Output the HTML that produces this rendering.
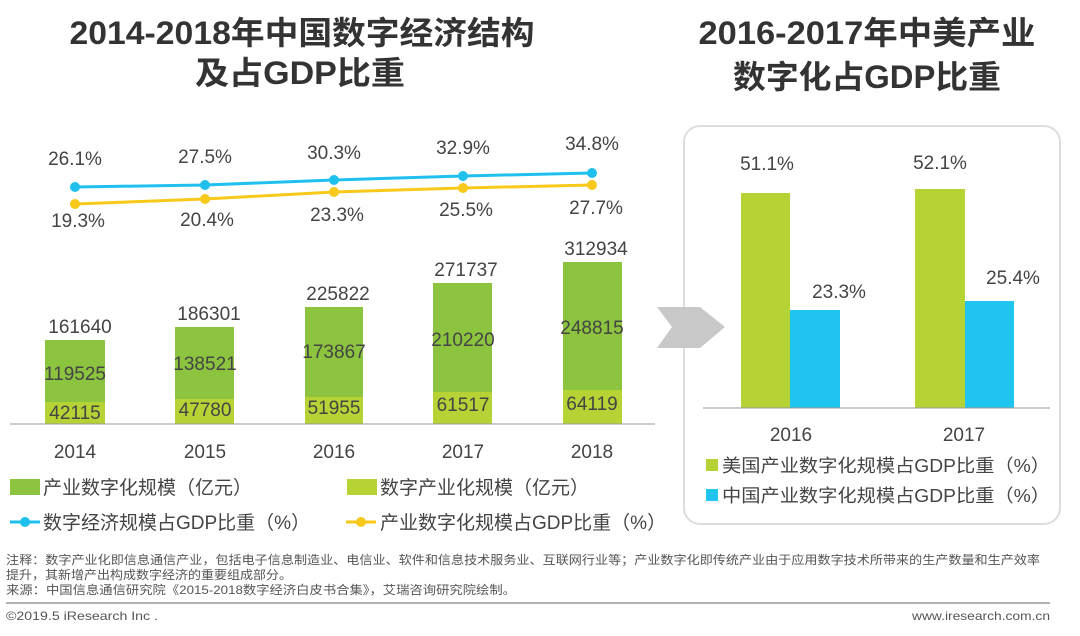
<!DOCTYPE html>
<html><head><meta charset="utf-8"><style>
body{margin:0;width:1080px;height:631px;background:#fff;overflow:hidden;font-family:"Liberation Sans","Noto Sans CJK SC",sans-serif;}
svg text{font-family:"Liberation Sans","Noto Sans CJK SC",sans-serif;}
</style></head><body>
<svg width="1080" height="631" xmlns="http://www.w3.org/2000/svg">
<g font-weight="bold" fill="#333" font-size="32" text-anchor="middle">
<text x="302" y="44" textLength="465" lengthAdjust="spacingAndGlyphs">2014-2018年中国数字经济结构</text>
<text x="300" y="84" textLength="210" lengthAdjust="spacingAndGlyphs">及占GDP比重</text>
<text x="867" y="44" textLength="337" lengthAdjust="spacingAndGlyphs">2016-2017年中美产业</text>
<text x="867" y="88" textLength="268" lengthAdjust="spacingAndGlyphs">数字化占GDP比重</text>
</g>
<!-- right panel -->
<rect x="684" y="126" width="376" height="398" rx="16" fill="#fff" stroke="#ddd" stroke-width="2"/>
<!-- left bars -->
<g>
<rect x="45" y="340" width="60" height="84" fill="#8cc43f"/><rect x="45" y="402" width="60" height="22" fill="#b5d334"/>
<rect x="175" y="327" width="59" height="97" fill="#8cc43f"/><rect x="175" y="399" width="59" height="25" fill="#b5d334"/>
<rect x="305" y="307" width="58" height="117" fill="#8cc43f"/><rect x="305" y="397" width="58" height="27" fill="#b5d334"/>
<rect x="433" y="283" width="59" height="141" fill="#8cc43f"/><rect x="433" y="392" width="59" height="32" fill="#b5d334"/>
<rect x="563" y="262" width="59" height="162" fill="#8cc43f"/><rect x="563" y="390" width="59" height="34" fill="#b5d334"/>
<line x1="10" y1="424" x2="655" y2="424" stroke="#999" stroke-width="1"/>
</g>
<g font-size="19" fill="#444" text-anchor="middle">
<text x="80" y="333">161640</text><text x="209" y="320">186301</text><text x="338" y="300">225822</text><text x="466" y="276">271737</text><text x="596" y="255">312934</text>
<text x="75" y="380">119525</text><text x="205" y="370">138521</text><text x="334" y="358">173867</text><text x="463" y="346">210220</text><text x="592" y="334">248815</text>
<text x="75" y="419">42115</text><text x="205" y="416">47780</text><text x="334" y="414">51955</text><text x="463" y="411">61517</text><text x="592" y="410">64119</text>
<text x="75" y="458">2014</text><text x="205" y="458">2015</text><text x="334" y="458">2016</text><text x="463" y="458">2017</text><text x="592" y="458">2018</text>
<text x="75" y="165">26.1%</text><text x="205" y="163">27.5%</text><text x="334" y="159">30.3%</text><text x="463" y="154">32.9%</text><text x="592" y="150">34.8%</text>
<text x="78" y="227">19.3%</text><text x="207" y="226">20.4%</text><text x="337" y="221">23.3%</text><text x="466" y="216">25.5%</text><text x="596" y="214">27.7%</text>
</g>
<polyline points="75,187 205,185 334,180 463,176 592,173" fill="none" stroke="#1fc0ee" stroke-width="3"/>
<polyline points="75,204 205,199 334,192 463,188 592,185" fill="none" stroke="#f8c81a" stroke-width="3"/>
<g fill="#1fc0ee"><circle cx="75" cy="187" r="5"/><circle cx="205" cy="185" r="5"/><circle cx="334" cy="180" r="5"/><circle cx="463" cy="176" r="5"/><circle cx="592" cy="173" r="5"/></g>
<g fill="#f8c81a"><circle cx="75" cy="204" r="5"/><circle cx="205" cy="199" r="5"/><circle cx="334" cy="192" r="5"/><circle cx="463" cy="188" r="5"/><circle cx="592" cy="185" r="5"/></g>
<!-- legend left -->
<rect x="10" y="479" width="30" height="16" fill="#8cc43f"/><rect x="347" y="479" width="30" height="16" fill="#b5d334"/>
<line x1="10" y1="522" x2="40" y2="522" stroke="#1fc0ee" stroke-width="3"/><circle cx="25" cy="522" r="5" fill="#1fc0ee"/>
<line x1="346" y1="522" x2="376" y2="522" stroke="#f8c81a" stroke-width="3"/><circle cx="361" cy="522" r="5" fill="#f8c81a"/>
<g font-size="19" fill="#444">
<text x="43" y="494">产业数字化规模（亿元）</text><text x="380" y="494">数字产业化规模（亿元）</text>
<text x="43" y="529">数字经济规模占GDP比重（%）</text><text x="380" y="529">产业数字化规模占GDP比重（%）</text>
</g>
<!-- arrow -->
<polygon points="657,307 700,307 725,327 700,348 657,348 672,327" fill="#c8c8c8"/>
<rect x="741" y="193" width="49" height="215" fill="#b5d334"/><rect x="790" y="310" width="50" height="98" fill="#1fc5ee"/>
<rect x="915" y="189" width="50" height="219" fill="#b5d334"/><rect x="965" y="301" width="49" height="107" fill="#1fc5ee"/>
<line x1="703" y1="408" x2="1050" y2="408" stroke="#999"/>
<g font-size="19" fill="#444" text-anchor="middle">
<text x="767" y="170">51.1%</text><text x="839" y="298">23.3%</text><text x="940" y="169">52.1%</text><text x="1013" y="284">25.4%</text>
<text x="791" y="441">2016</text><text x="964" y="441">2017</text>
</g>
<rect x="706" y="459" width="12" height="12" fill="#b5d334"/><rect x="706" y="489" width="12" height="12" fill="#1fc5ee"/>
<g font-size="18" fill="#444"><text x="722" y="472" textLength="328" lengthAdjust="spacingAndGlyphs">美国产业数字化规模占GDP比重（%）</text><text x="722" y="502" textLength="328" lengthAdjust="spacingAndGlyphs">中国产业数字化规模占GDP比重（%）</text></g>
<!-- footer -->
<g font-size="12" fill="#555">
<text x="6" y="564" textLength="1034" lengthAdjust="spacingAndGlyphs">注释：数字产业化即信息通信产业，包括电子信息制造业、电信业、软件和信息技术服务业、互联网行业等；产业数字化即传统产业由于应用数字技术所带来的生产数量和生产效率</text>
<text x="6" y="579" textLength="286" lengthAdjust="spacingAndGlyphs">提升，其新增产出构成数字经济的重要组成部分。</text>
<text x="6" y="594" textLength="510" lengthAdjust="spacingAndGlyphs">来源：中国信息通信研究院《2015-2018数字经济白皮书合集》，艾瑞咨询研究院绘制。</text>
<text x="6" y="620" textLength="152" lengthAdjust="spacingAndGlyphs">©2019.5 iResearch Inc .</text>
<text x="1050" y="620" text-anchor="end" textLength="138" lengthAdjust="spacingAndGlyphs">www.iresearch.com.cn</text>
</g>
<line x1="6" y1="603" x2="1050" y2="603" stroke="#999" stroke-width="1.5"/>
</svg>
</body></html>
